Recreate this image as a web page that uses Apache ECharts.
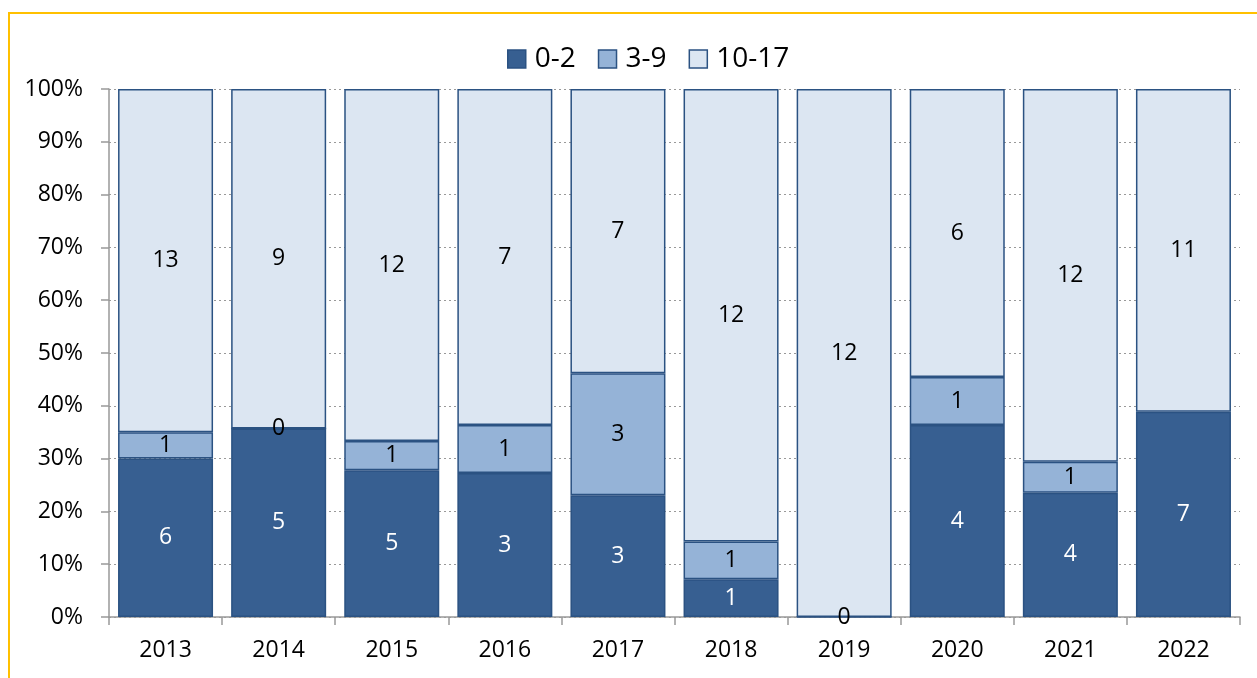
<!DOCTYPE html>
<html>
<head>
<meta charset="utf-8">
<script src="https://cdn.jsdelivr.net/npm/echarts@6/dist/echarts.min.js"></script>
<style>
html,body{margin:0;padding:0;background:#fff;}
#c{width:1257px;height:678px;}
</style>
</head>
<body>
<div id="c"></div>
<script>
var categories = ['2013','2014','2015','2016','2017','2018','2019','2020','2021','2022'];
var age0to2 = [6, 5, 5, 3, 3, 1, null, 4, 4, 7];
var age3to9 = [1, 0, 1, 1, 3, 1, 0, 1, 1, null];
var age10to17 = [13, 9, 12, 7, 7, 12, 12, 6, 12, 11];
var yTicks = ['0%','10%','20%','30%','40%','50%','60%','70%','80%','90%','100%'];

var totals = categories.map(function(_, i){
  return (age0to2[i]||0) + (age3to9[i]||0) + (age10to17[i]||0);
});
function build(arr){
  return arr.map(function(v, i){
    if (v === null) return {value: 0, count: null, label: {show: false}, itemStyle: {borderWidth: 0}};
    return {value: v / totals[i] * 100, count: v};
  });
}
var FONT = 'Open Sans';
var BORDER = '#2b5282';
function mk(name, arr, color, labelColor){
  return {
    name: name, type: 'bar', stack: 'all', barCategoryGap: '16%',
    data: build(arr),
    itemStyle: {color: color, borderColor: BORDER, borderWidth: 1.5},
    label: {show: true, position: 'inside', color: labelColor, fontFamily: FONT, fontSize: 23,
      formatter: function(p){ return p.data.count === null ? '' : String(p.data.count); }},
    emphasis: {disabled: true}
  };
}
var chart = echarts.init(document.getElementById('c'));
chart.setOption({
  animation: false,
  graphic: [{type: 'rect', shape: {x: 9, y: 13, width: 1400, height: 900},
    style: {fill: 'none', stroke: '#FFC000', lineWidth: 2}, silent: true}],
  legend: {
    top: 40, left: 502, itemWidth: 18, itemHeight: 18, itemGap: 22, icon: 'rect',
    textStyle: {fontFamily: FONT, fontSize: 28, color: '#000', padding: [0, 0, 0, 4]},
    itemStyle: {borderColor: BORDER, borderWidth: 1.5},
    selectedMode: false
  },
  grid: {left: 109, right: 17, top: 89, bottom: 61},
  xAxis: {
    type: 'category', data: categories,
    axisLine: {lineStyle: {color: '#999', width: 1.5}},
    axisTick: {show: true, length: 8, lineStyle: {color: '#999', width: 1.5}},
    axisLabel: {fontFamily: FONT, fontSize: 23, color: '#000', margin: 22}
  },
  yAxis: {
    type: 'value', min: 0, max: 100, interval: 10,
    axisLine: {show: true, lineStyle: {color: '#999', width: 1.5}},
    axisTick: {show: true, length: 8, lineStyle: {color: '#999', width: 1.5}},
    axisLabel: {fontFamily: FONT, fontSize: 23, color: '#000', margin: 26,
      formatter: function(v){ return yTicks[Math.round(v/10)]; }},
    splitLine: {show: true, lineStyle: {color: '#999', type: [2, 3], width: 1.2}}
  },
  series: [
    mk('0-2', age0to2, '#375F91', '#fff'),
    mk('3-9', age3to9, '#95B3D7', '#000'),
    mk('10-17', age10to17, '#DCE6F2', '#000')
  ]
});
</script>
</body>
</html>
